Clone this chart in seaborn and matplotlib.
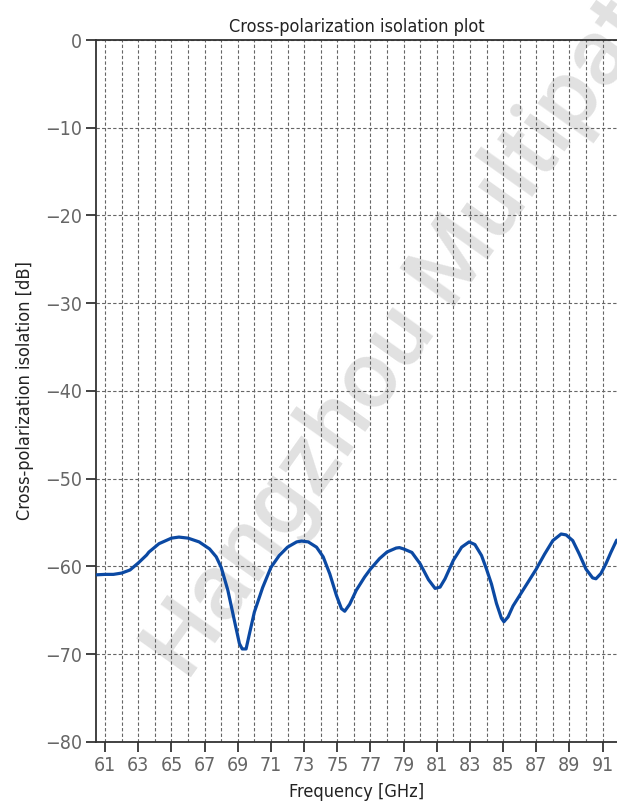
import numpy as np
import matplotlib
matplotlib.use("Agg")
import matplotlib.pyplot as plt
import seaborn as sns
from matplotlib.ticker import MultipleLocator

# -----------------------------
#  Data
# -----------------------------
freq_ghz = [
    60.48, 61.0, 61.5, 62.0, 62.5, 63.0, 63.5, 63.64, 64.25, 65.0,
    65.45, 66.0, 66.67, 67.3, 67.7, 68.0, 68.4, 68.8, 69.1, 69.27,
    69.5, 69.7, 70.0, 70.5, 71.0, 71.5, 72.0, 72.55, 72.85, 73.25,
    73.75, 74.15, 74.55, 74.95, 75.25, 75.45, 75.75, 76.15, 76.65, 77.0,
    77.55, 78.0, 78.55, 78.75, 79.0, 79.5, 80.0, 80.5, 80.9, 81.2,
    81.5, 82.0, 82.5, 82.95, 83.3, 83.7, 84.0, 84.3, 84.6, 84.9,
    85.05, 85.3, 85.6, 86.0, 86.5, 87.0, 87.5, 88.0, 88.5, 88.8,
    89.2, 89.6, 90.0, 90.4, 90.6, 90.9, 91.2, 91.5, 91.85,
]
isolation_db = [
    -60.95, -60.9, -60.9, -60.75, -60.4, -59.6, -58.7, -58.36, -57.4, -56.77,
    -56.65, -56.77, -57.2, -58.0, -58.9, -60.1, -62.7, -66.2, -68.8, -69.4,
    -69.4, -67.7, -65.2, -62.4, -60.1, -58.75, -57.8, -57.2, -57.1, -57.2,
    -57.8, -58.9, -60.85, -63.3, -64.8, -65.1, -64.3, -62.7, -61.2, -60.3,
    -59.1, -58.35, -57.9, -57.85, -58.0, -58.4, -59.7, -61.5, -62.5, -62.35,
    -61.4, -59.3, -57.8, -57.2, -57.5, -58.75, -60.3, -62.0, -64.2, -65.9,
    -66.3, -65.75, -64.5, -63.3, -61.8, -60.3, -58.6, -57.05, -56.3, -56.4,
    -57.05, -58.6, -60.3, -61.3, -61.4, -60.8, -59.7, -58.4, -57.0,
]
x_ticks = list(range(61, 92, 2))
y_ticks = list(range(-80, 1, 10))

TITLE = "Cross-polarization isolation plot"
X_LABEL = "Frequency [GHz]"
Y_LABEL = "Cross-polarization isolation [dB]"
WATERMARK = "Hangzhou Multipath"

# -----------------------------
#  Style
# -----------------------------
sns.set_theme(style="white")
plt.rcParams["font.family"] = ["DejaVu Sans"]
plt.rcParams["font.stretch"] = "condensed"
plt.rcParams["axes.unicode_minus"] = True

fig = plt.figure(figsize=(6.17, 8.05), dpi=100)
ax = fig.add_axes([0.1556, 0.0783, 0.8444, 0.872])

# watermark sits under the grid and the curve
ax.text(0.3036, 0.1517, WATERMARK, transform=fig.transFigure,
        rotation=54.6, rotation_mode="anchor", ha="left", va="baseline",
        fontsize=68, color="#e1e1e1", family=["Roboto", "DejaVu Sans"],
        fontstretch="normal", fontweight="medium", zorder=0.1)

sns.lineplot(x=freq_ghz, y=isolation_db, ax=ax, color="#0b49a3",
             linewidth=2.3, zorder=3)

ax.set_xlim(60.45, 91.87)
ax.set_ylim(-80, 0)
ax.set_xticks(x_ticks)
ax.set_yticks(y_ticks)
ax.xaxis.set_minor_locator(MultipleLocator(1))

ax.set_axisbelow(True)
ax.grid(which="both", axis="x", color="#666666", linestyle=(0, (3, 2)), linewidth=0.8, zorder=1)
ax.grid(which="major", axis="y", color="#666666", linestyle=(0, (3, 2)), linewidth=0.8, zorder=1)

for side in ("left", "top", "bottom"):
    ax.spines[side].set_visible(True)
    ax.spines[side].set_color("#333333")
    ax.spines[side].set_linewidth(1.3)
ax.spines["right"].set_visible(False)

ax.tick_params(axis="both", which="major", direction="out", length=7, width=1.2,
               color="#222222", labelsize=14, labelcolor="#666666", pad=3,
               bottom=True, left=True)
ax.tick_params(axis="x", which="minor", length=0)

ax.set_title(TITLE, fontsize=13, color="#222222", pad=6)
ax.set_xlabel(X_LABEL, fontsize=13, color="#222222", labelpad=6)
ax.set_ylabel(Y_LABEL, fontsize=13, color="#222222", labelpad=8)

fig.savefig("out.png", dpi=100)
